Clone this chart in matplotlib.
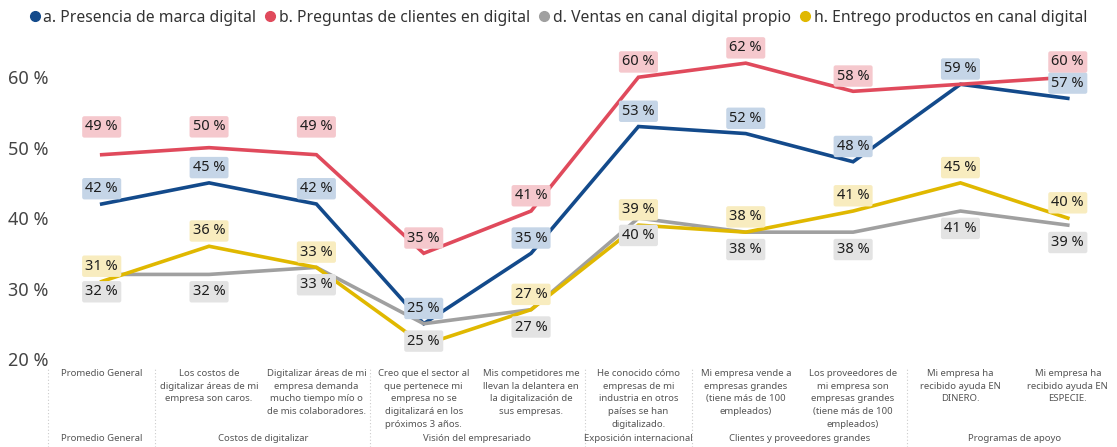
import matplotlib
matplotlib.use("Agg")
import matplotlib.pyplot as plt
import matplotlib.transforms as mtransforms
from matplotlib.lines import Line2D

plt.rcParams['font.family'] = ['Noto Sans', 'DejaVu Sans']

# ---- data ----
categories = [
    "Promedio General",
    "Los costos de\ndigitalizar áreas de mi\nempresa son caros.",
    "Digitalizar áreas de mi\nempresa demanda\nmucho tiempo mío o\nde mis colaboradores.",
    "Creo que el sector al\nque pertenece mi\nempresa no se\ndigitalizará en los\npróximos 3 años.",
    "Mis competidores me\nllevan la delantera en\nla digitalización de\nsus empresas.",
    "He conocido cómo\nempresas de mi\nindustria en otros\npaíses se han\ndigitalizado.",
    "Mi empresa vende a\nempresas grandes\n(tiene más de 100\nempleados)",
    "Los proveedores de\nmi empresa son\nempresas grandes\n(tiene más de 100\nempleados)",
    "Mi empresa ha\nrecibido ayuda EN\nDINERO.",
    "Mi empresa ha\nrecibido ayuda EN\nESPECIE.",
]
groups = ["Promedio General", "Costos de digitalizar", "Visión del empresariado",
          "Exposición internacional", "Clientes y proveedores grandes", "Programas de apoyo"]
group_sizes = [1, 2, 2, 1, 2, 2]

series_names = ["a. Presencia de marca digital", "b. Preguntas de clientes en digital",
                "d. Ventas en canal digital propio", "h. Entrego productos en canal digital"]
presencia = [42, 45, 42, 25, 35, 53, 52, 48, 59, 57]
preguntas = [49, 50, 49, 35, 41, 60, 62, 58, 59, 60]
ventas = [32, 32, 33, 25, 27, 40, 38, 38, 41, 39]
entrego = [31, 36, 33, 22, 27, 39, 38, 41, 45, 40]

y_ticks = [20, 30, 40, 50, 60]

# ---- styling ----
line_colors = ["#134a8b", "#e04a5c", "#a0a0a0", "#e0b800"]
label_bg = ["#c5d5e7", "#f5c8cd", "#e3e3e3", "#f8ecbf"]
label_offset = [11, 11, -12.5, 11]    # points above (+) or below (-) each point
extra_offset = {(1, 0): 9, (1, 1): 4, (1, 2): 9}   # labels lifted clear of neighbours
hidden_labels = {(1, 8), (3, 3)}      # (series, index) labels not shown

fig = plt.figure(figsize=(11.17, 4.47), dpi=100)
ax = fig.add_axes([0.043, 0.197, 0.961, 0.709])

all_series = [presencia, preguntas, ventas, entrego]
x = list(range(len(categories)))

for s, vals in enumerate(all_series):
    ax.plot(x, vals, color=line_colors[s], lw=2.6, solid_joinstyle='miter', zorder=2)

for s, vals in enumerate(all_series):
    for i, v in enumerate(vals):
        if (s, i) in hidden_labels:
            continue
        dy = label_offset[s] + extra_offset.get((s, i), 0)
        ax.annotate(f"{v} %", (i, v), xytext=(0, dy), textcoords='offset points',
                    ha='center', va='center', fontsize=10.5, fontweight='bold', color='#1e1e1e',
                    bbox=dict(boxstyle='round,pad=0.22,rounding_size=0.15', fc=label_bg[s], ec='none'),
                    zorder=5)

ax.set_xlim(-0.5, 9.5)
ax.set_ylim(20, 65)
ax.set_yticks(y_ticks)
ax.set_yticklabels([f"{t} %" for t in y_ticks], fontsize=13, color='#444444')
ax.tick_params(axis='y', length=0, pad=0)
ax.set_xticks([])
for sp in ax.spines.values():
    sp.set_visible(False)

# category axis: item labels and group labels beneath
trans = mtransforms.blended_transform_factory(ax.transData, fig.transFigure)
for i, c in enumerate(categories):
    ax.text(i, 0.175, c, transform=trans, ha='center', va='top', fontsize=6.9,
            color='#555555', linespacing=1.55, clip_on=False)

start = 0
bounds = [-0.5]
for g, n in zip(groups, group_sizes):
    center = start + (n - 1) / 2
    ax.text(center, 0.02, g, transform=trans, ha='center', va='center', fontsize=6.9,
            color='#555555', clip_on=False)
    start += n
    bounds.append(start - 0.5)

for b in bounds[:-1]:
    ax.add_line(Line2D([b, b], [0.0, 0.18], transform=trans, color='#cccccc', lw=0.8,
                       ls=(0, (1, 2)), clip_on=False))

handles = [Line2D([], [], marker='o', ls='none', color=c, markersize=7) for c in line_colors]
fig.legend(handles, series_names, loc='upper center', bbox_to_anchor=(0.5, 1.01), ncol=4,
           frameon=False, fontsize=11.3, handlelength=0.6, handletextpad=0.25,
           columnspacing=0.6, labelcolor='#333333')

fig.savefig("out.png", dpi=100)
